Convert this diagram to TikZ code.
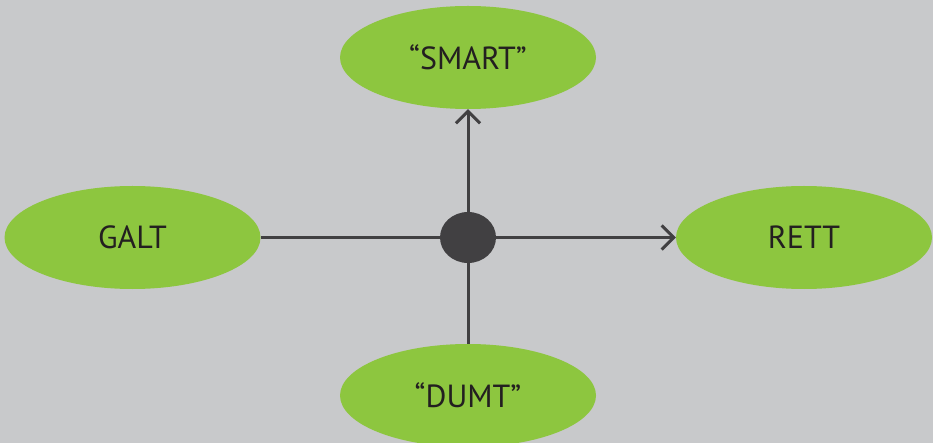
\documentclass[tikz,border=0pt]{standalone}
\usepackage{fontspec}
\setmainfont{PT Sans}
\usetikzlibrary{arrows.meta,shapes.geometric}
\definecolor{bgGrey}{RGB}{200,201,203}
\definecolor{leafGreen}{RGB}{141,198,63}
\definecolor{hubDark}{RGB}{65,64,66}
\definecolor{txtDark}{RGB}{35,31,32}
\tikzset{
  pole/.style={ellipse, fill=leafGreen, minimum width=256pt, minimum height=103pt,
    inner sep=0pt, text=txtDark, font=\fontsize{32}{36}\selectfont},
  hub/.style={ellipse, fill=hubDark, minimum width=56pt, minimum height=51pt, inner sep=0pt},
  link/.style={draw=hubDark, line width=3pt},
  tip/.style={-{Straight Barb[length=12pt,width=24pt,line width=3pt]}}
}
\begin{document}
\begin{tikzpicture}[x=1pt,y=-1pt]
  \fill[bgGrey] (0,0) rectangle (933,443);
  \useasboundingbox (0,0) rectangle (933,443);
  \node[pole] (smart) at (468,57.5) {“SMART”};
  \node[pole] (galt)  at (132.5,237.5) {GALT};
  \node[pole] (rett)  at (804,237.5) {RETT};
  \node[pole] (dumt)  at (468,395.5) {“DUMT”};
  \node[hub]  (mid)   at (468,237.5) {};
  \draw[link] (galt.east) -- (mid);
  \draw[link] (mid) -- (dumt.north);
  \draw[link,tip] (mid) -- (rett.west);
  \draw[link,tip] (mid) -- (smart.south);
\end{tikzpicture}
\end{document}
